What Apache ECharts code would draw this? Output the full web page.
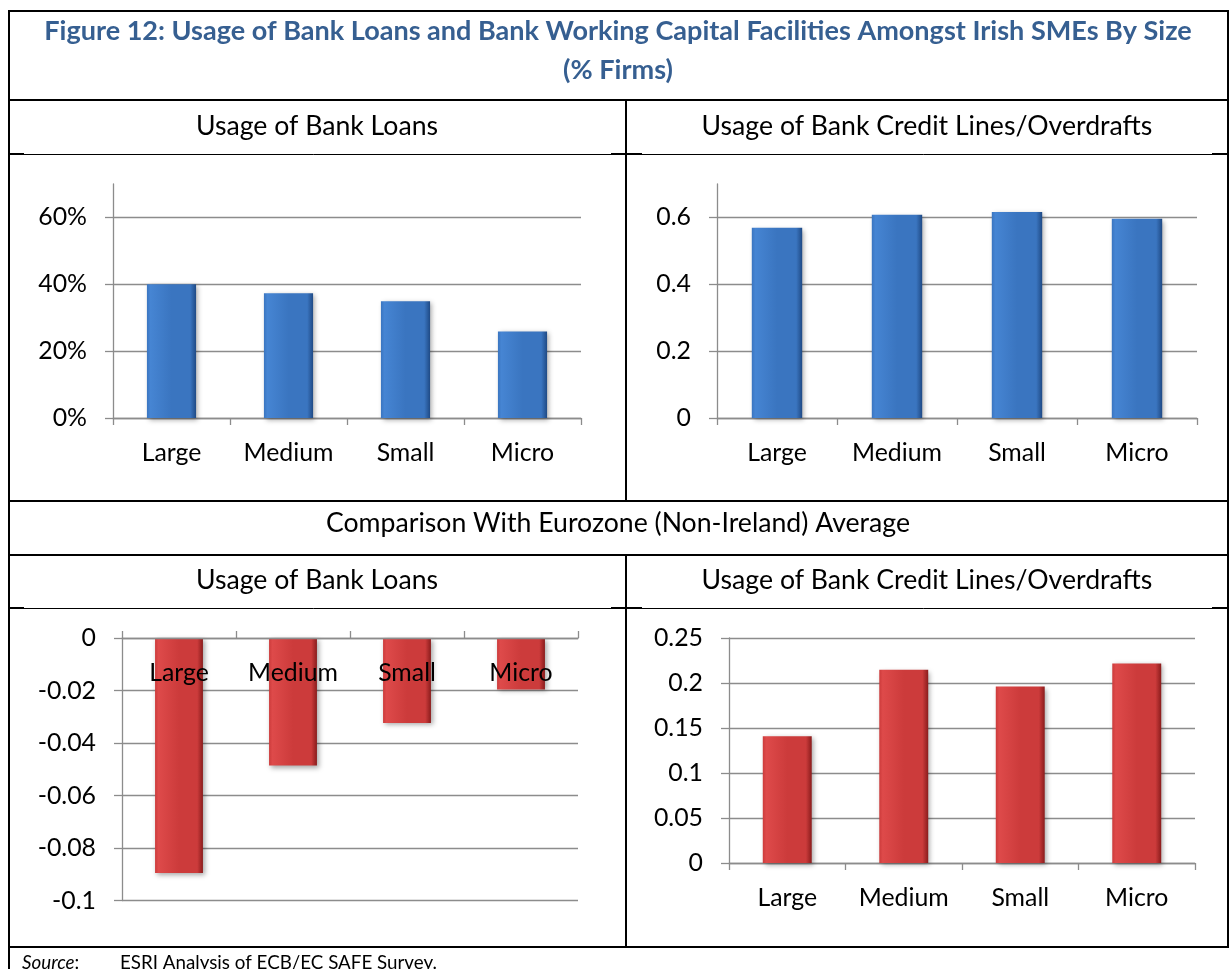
<!DOCTYPE html>
<html>
<head>
<meta charset="utf-8">
<title>Figure 12: Usage of Bank Loans and Bank Working Capital Facilities Amongst Irish SMEs By Size</title>
<script src="https://cdn.jsdelivr.net/npm/echarts@6/dist/echarts.min.js"></script>
<style>
  html, body { margin: 0; padding: 0; background: #ffffff; }
  #chart { width: 1229px; height: 969px; }
</style>
</head>
<body>
<div id="chart"></div>
<script>
// Firm size classes
const sizes = ['Large', 'Medium', 'Small', 'Micro'];

// Share of Irish SMEs using each product
const irelandLoans  = [0.400, 0.373, 0.349, 0.259];
const irelandCredit = [0.569, 0.608, 0.616, 0.596];

// Ireland minus Eurozone (non-Ireland) average
const gapLoans  = [-0.0895, -0.0486, -0.0324, -0.0196];
const gapCredit = [0.1407, 0.2148, 0.1960, 0.2218];

// Value-axis ticks for each panel
const ticksLoans     = [0, 0.2, 0.4, 0.6];
const ticksCredit    = [0, 0.2, 0.4, 0.6];
const ticksGapLoans  = [-0.1, -0.08, -0.06, -0.04, -0.02, 0];
const ticksGapCredit = [0, 0.05, 0.1, 0.15, 0.2, 0.25];

const FONT = 'Lato, "Open Sans", "Noto Sans", sans-serif';
const GRID_GRAY = '#8c8c8c';
const TITLE_BLUE = '#365F91';

// Size a font so that a sample string spans a given width
function fitSize(sample, targetWidth, weight, style) {
  const ctx = document.createElement('canvas').getContext('2d');
  ctx.font = (style || 'normal') + ' ' + (weight || 'normal') + ' 100px ' + FONT;
  return 100 * targetWidth / ctx.measureText(sample).width;
}

const titleSize = fitSize('Figure 12: Usage of Bank Loans and Bank Working Capital Facilities Amongst Irish SMEs By Size', 1148, 'bold');
const headSize  = fitSize('Usage of Bank Credit Lines/Overdrafts', 451);
const axisSize  = fitSize('Medium', 90);
const noteSize  = fitSize('ESRI Analysis of ECB/EC SAFE Survey.', 317);

// Bevelled bar fills
function barFill(light, mid, dark) {
  return new echarts.graphic.LinearGradient(0, 0, 1, 0, [
    { offset: 0, color: mid },
    { offset: 0.07, color: light },
    { offset: 0.5, color: mid },
    { offset: 0.88, color: mid },
    { offset: 1, color: dark }
  ]);
}
const blueFill = barFill('#4685d3', '#3a75c0', '#1f4a85');
const redFill  = barFill('#de4a4a', '#cc3b3b', '#8a1c1c');

function valueAxis(gridIndex, min, max, ticks, formatter) {
  return {
    type: 'value', gridIndex, min, max,
    axisLine: { show: true, lineStyle: { color: GRID_GRAY, width: 1.3 } },
    axisTick: { show: true, length: 8, customValues: ticks, lineStyle: { color: GRID_GRAY, width: 1.3 } },
    splitLine: { show: true, lineStyle: { color: GRID_GRAY, width: 1.3 } },
    axisLabel: {
      customValues: ticks, margin: 26, color: '#000',
      fontFamily: FONT, fontSize: axisSize,
      formatter: formatter || (v => String(+v.toFixed(4)))
    }
  };
}

// Category axis; for the all-negative panel the axis sits on the zero line at the top,
// with its ticks pointing up and its labels hanging down into the plot
function categoryAxis(gridIndex, atTop) {
  return {
    type: 'category', gridIndex, data: sizes, boundaryGap: true,
    position: atTop ? 'top' : 'bottom',
    axisLine: { show: true, onZero: !atTop, lineStyle: { color: GRID_GRAY, width: 1.3 } },
    axisTick: { show: true, inside: false, length: 7, lineStyle: { color: GRID_GRAY, width: 1.3 } },
    axisLabel: { inside: !!atTop, margin: 22, color: '#000', fontFamily: FONT, fontSize: axisSize, interval: 0 },
    z: atTop ? 5 : 0
  };
}

function barSeries(index, values, fill) {
  return {
    type: 'bar', xAxisIndex: index, yAxisIndex: index, data: values,
    barWidth: '42%',
    itemStyle: {
      color: fill,
      shadowColor: 'rgba(0,0,0,0.35)', shadowBlur: 5, shadowOffsetX: 2, shadowOffsetY: 2
    },
    silent: true
  };
}

// Table frame
const thick = { stroke: '#000', lineWidth: 2 };
const thin  = { stroke: '#000', lineWidth: 1 };
function hLine(y, x1, x2, style) {
  return { type: 'line', shape: { x1, y1: y, x2, y2: y }, style, silent: true };
}
function vLine(x, y1, y2, style) {
  return { type: 'line', shape: { x1: x, y1, x2: x, y2 }, style, silent: true };
}
function label(text, x, y, size, extra) {
  return {
    type: 'text', x, y, silent: true,
    style: Object.assign({
      text, fill: '#000', font: 'normal ' + size.toFixed(2) + 'px ' + FONT,
      align: 'center', verticalAlign: 'middle'
    }, extra || {})
  };
}

const L = 9, R = 1228, MID = 626;
const frame = [
  hLine(11, L - 1, R + 1, thick),
  hLine(100, L, R, thick),
  hLine(154.5, L, R, thin),
  hLine(154, L, 24, thick), hLine(154, 611, 642, thick), hLine(154, 1212, R, thick),
  hLine(501, L, R, thick),
  hLine(555, L, R, thick),
  hLine(608.5, L, R, thin),
  hLine(608, L, 24, thick), hLine(608, 611, 642, thick), hLine(608, 1212, R, thick),
  hLine(947, L, R, thick),
  vLine(L, 10, 969, thick),
  vLine(R, 10, 948, thick),
  vLine(MID, 100, 501, thick),
  vLine(MID, 555, 948, thick)
];

const titleFont = 'bold ' + titleSize.toFixed(2) + 'px ' + FONT;
const texts = [
  label('Figure 12: Usage of Bank Loans and Bank Working Capital Facilities Amongst Irish SMEs By Size',
        618, 31, titleSize, { fill: TITLE_BLUE, font: titleFont }),
  label('(% Firms)', 618, 70, titleSize, { fill: TITLE_BLUE, font: titleFont }),
  label('Usage of Bank Loans', 317, 126, headSize),
  label('Usage of Bank Credit Lines/Overdrafts', 927, 126, headSize),
  label('Comparison With Eurozone (Non-Ireland) Average', 618, 523, headSize),
  label('Usage of Bank Loans', 317, 580, headSize),
  label('Usage of Bank Credit Lines/Overdrafts', 927, 580, headSize),
  {
    type: 'text', x: 22, y: 963, silent: true,
    style: {
      text: '{i|Source}{n|:}', verticalAlign: 'middle', align: 'left',
      rich: {
        i: { fontFamily: FONT, fontSize: noteSize, fontStyle: 'italic', fill: '#000' },
        n: { fontFamily: FONT, fontSize: noteSize, fill: '#000' }
      }
    }
  },
  label('ESRI Analysis of ECB/EC SAFE Survey.', 120, 963, noteSize, { align: 'left' })
];

const chart = echarts.init(document.getElementById('chart'), null, { renderer: 'canvas' });
chart.setOption({
  backgroundColor: '#ffffff',
  animation: false,
  grid: [
    { left: 113, top: 184, width: 468, height: 234, containLabel: false, outerBoundsMode: 'none' },
    { left: 717, top: 184, width: 480, height: 234, containLabel: false, outerBoundsMode: 'none' },
    { left: 122, top: 638, width: 456, height: 262.5, containLabel: false, outerBoundsMode: 'none' },
    { left: 729, top: 638, width: 466, height: 225, containLabel: false, outerBoundsMode: 'none' }
  ],
  xAxis: [categoryAxis(0), categoryAxis(1), categoryAxis(2, true), categoryAxis(3)],
  yAxis: [
    valueAxis(0, 0, 0.7, ticksLoans, v => Math.round(v * 100) + '%'),
    valueAxis(1, 0, 0.7, ticksCredit),
    valueAxis(2, -0.1, 0, ticksGapLoans),
    valueAxis(3, 0, 0.25, ticksGapCredit)
  ],
  series: [
    barSeries(0, irelandLoans, blueFill),
    barSeries(1, irelandCredit, blueFill),
    barSeries(2, gapLoans, redFill),
    barSeries(3, gapCredit, redFill)
  ],
  graphic: { elements: frame.concat(texts) }
});
</script>
</body>
</html>
